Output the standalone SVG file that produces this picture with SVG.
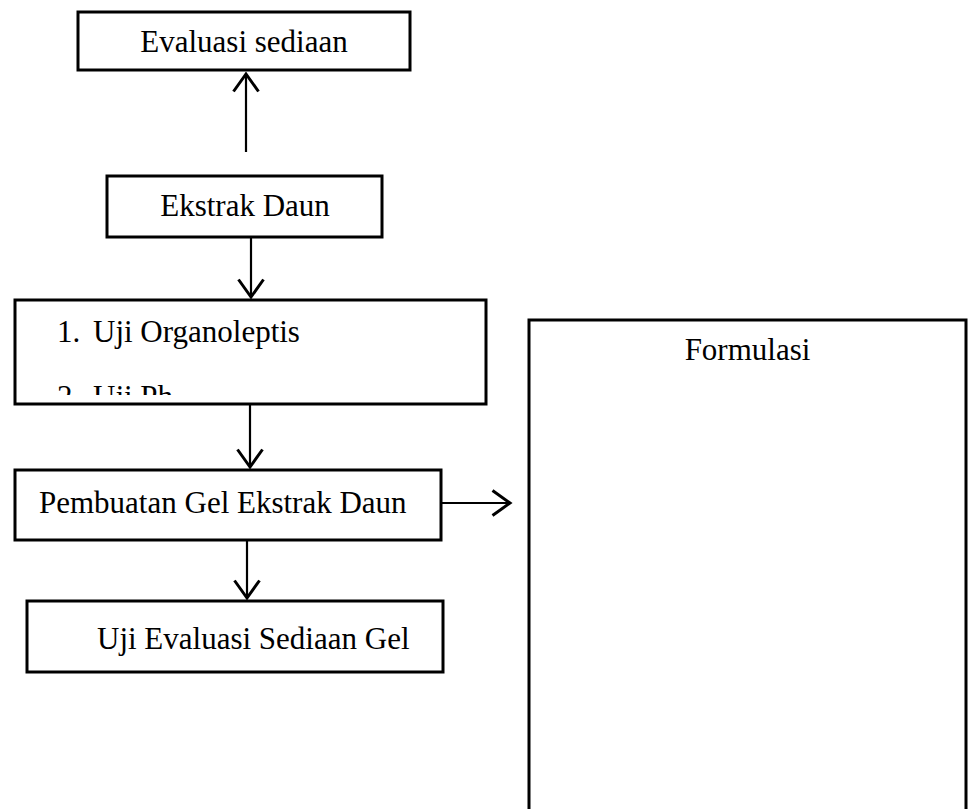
<svg xmlns="http://www.w3.org/2000/svg" width="968" height="809" viewBox="0 0 968 809">
<style>
.box{fill:#fff;stroke:#000;stroke-width:3}
.t{font-family:"Liberation Serif","Times New Roman",serif;font-size:31px;fill:#000}
.c{text-anchor:middle}
.edge{stroke:#000;stroke-width:2.2;fill:none;marker-end:url(#arr)}
</style>
<defs>
<marker id="arr" markerUnits="userSpaceOnUse" markerWidth="30" markerHeight="30" viewBox="-16 -12 18 24" refX="0" refY="0" orient="auto">
<path d="M-14,-10 L0,0 L-14,10" fill="none" stroke="#000" stroke-width="2.4"/>
</marker>
<clipPath id="clip3"><rect x="15" y="300" width="471" height="95"/></clipPath>
</defs>
<rect width="968" height="809" fill="#fff"/>
<g id="connectors">
<line class="edge" x1="246" y1="152" x2="246" y2="74"/>
<line class="edge" x1="251" y1="238" x2="251" y2="297"/>
<line class="edge" x1="250" y1="405" x2="250" y2="467"/>
<line class="edge" x1="442" y1="503" x2="510" y2="503"/>
<line class="edge" x1="247" y1="541" x2="247" y2="598"/>
</g>
<g id="evaluasi-sediaan">
<rect class="box" x="78" y="12" width="332" height="58"/>
<text class="t c" x="244" y="52">Evaluasi sediaan</text>
</g>
<g id="ekstrak-daun">
<rect class="box" x="107" y="176" width="275" height="61"/>
<text class="t c" x="245" y="216">Ekstrak Daun</text>
</g>
<g id="uji-list">
<rect class="box" x="15" y="300" width="471" height="104"/>
<g clip-path="url(#clip3)">
<text class="t" x="57" y="342">1.</text>
<text class="t" x="93" y="342">Uji Organoleptis</text>
<text class="t" x="57" y="407">2.</text>
<text class="t" x="93" y="407">Uji Ph</text>
</g>
</g>
<g id="pembuatan-gel">
<rect class="box" x="15" y="470" width="426" height="70"/>
<text class="t" x="39" y="513">Pembuatan Gel Ekstrak Daun</text>
</g>
<g id="uji-evaluasi-gel">
<rect class="box" x="27" y="601" width="416" height="71"/>
<text class="t" x="97" y="649">Uji Evaluasi Sediaan Gel</text>
</g>
<g id="formulasi">
<rect class="box" x="529" y="320" width="437" height="500"/>
<text class="t c" x="747.5" y="360">Formulasi</text>
</g>
</svg>
